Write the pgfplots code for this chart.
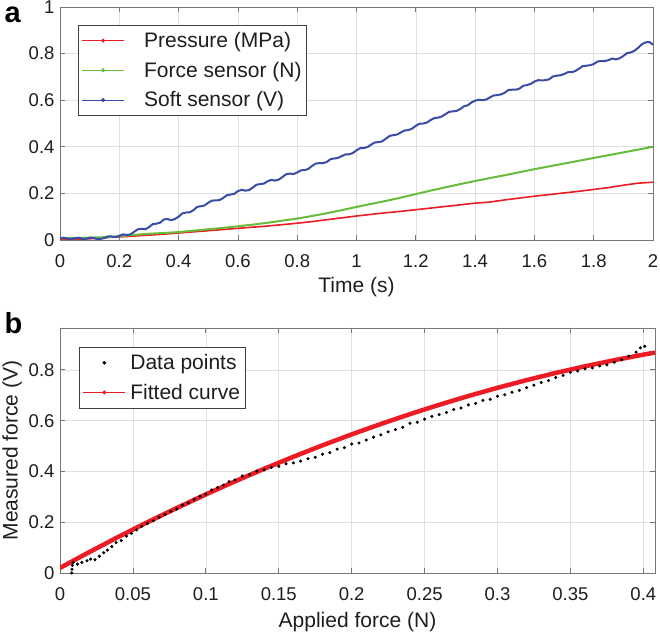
\documentclass[border=0pt]{standalone}
\usepackage{fontspec}
\setmainfont{Liberation Sans}
\usepackage{pgfplots}
\pgfplotsset{compat=1.18}
\definecolor{cred}{RGB}{237,28,36}
\definecolor{cgreen}{RGB}{102,189,58}
\definecolor{cblue}{RGB}{56,76,168}
\definecolor{gridc}{RGB}{224,224,224}
\definecolor{axc}{RGB}{120,120,120}
\definecolor{txt}{RGB}{30,30,30}
\pgfplotsset{mystyle/.style={
  scale only axis,
  axis line style={axc, line width=0.8pt},
  tick style={axc, line width=0.8pt},
  major tick length=5pt,
  tick align=inside,
  grid=major,
  grid style={gridc, line width=0.6pt},
  ticklabel style={font=\fontsize{18.5}{18.5}\selectfont, text=txt},
  xticklabel style={yshift=-11pt},
  yticklabel style={xshift=-2pt},
  label style={font=\fontsize{21}{21}\selectfont, text=txt},
  legend cell align=left,
  legend style={font=\fontsize{21}{21}\selectfont, draw=txt!85, line width=0.6pt,
    anchor=north west, text=txt, row sep=9pt, inner xsep=3pt, inner ysep=5pt},
}}
\pgfplotsset{lineleg/.style={legend image post style={line width=0.8pt},
  legend image code/.code={
  \draw (1pt,0pt) -- (43pt,0pt);
  \fill (22pt,0pt) circle (1.6pt);
  \path[draw=none,fill=none] (0pt,0pt) -- (#1,0pt);}}}
\begin{document}
\begin{tikzpicture}[x=1pt,y=1pt]
\useasboundingbox (0,0) rectangle (660,635);
\begin{axis}[mystyle,
  at={(60pt,395pt)}, anchor=south west,
  width=593pt, height=233pt,
  xmin=0, xmax=2, ymin=0, ymax=1,
  xtick={0,0.2,0.4,0.6,0.8,1,1.2,1.4,1.6,1.8,2},
  xticklabels={0,0.2,0.4,0.6,0.8,1,1.2,1.4,1.6,1.8,2},
  ytick={0,0.2,0.4,0.6,0.8,1},
  yticklabels={0,0.2,0.4,0.6,0.8,1},
  xlabel={Time (s)}, xlabel style={yshift=-3pt},
  legend style={at={(0.03,0.923)}},
]
\addplot[cred, line width=1.6pt, lineleg=61pt] coordinates {
(0,0.002) (0.05,0.003) (0.1,0.005) (0.15,0.010) (0.2,0.013) (0.25,0.017) (0.3,0.021) (0.35,0.025) (0.4,0.030) (0.45,0.035) (0.5,0.040) (0.55,0.045) (0.6,0.050) (0.65,0.055) (0.7,0.060) (0.75,0.066) (0.8,0.072) (0.85,0.079) (0.9,0.087) (0.95,0.095) (1.0,0.103) (1.05,0.110) (1.1,0.117) (1.15,0.123) (1.2,0.130) (1.25,0.137) (1.3,0.144) (1.35,0.151) (1.4,0.158) (1.45,0.163) (1.5,0.172) (1.55,0.180) (1.6,0.188) (1.65,0.195) (1.7,0.202) (1.75,0.209) (1.8,0.217) (1.85,0.225) (1.9,0.235) (1.95,0.244) (2.0,0.248)};
\addlegendentry{Pressure (MPa)}
\addplot[cgreen, line width=2pt, lineleg=61pt] coordinates {
(0,0.008) (0.05,0.008) (0.1,0.010) (0.15,0.012) (0.2,0.016) (0.25,0.022) (0.3,0.027) (0.35,0.030) (0.4,0.034) (0.45,0.040) (0.5,0.046) (0.55,0.052) (0.6,0.059) (0.65,0.066) (0.7,0.074) (0.75,0.083) (0.8,0.092) (0.85,0.103) (0.9,0.115) (0.95,0.128) (1.0,0.142) (1.05,0.155) (1.1,0.168) (1.15,0.182) (1.2,0.197) (1.25,0.212) (1.3,0.226) (1.35,0.240) (1.4,0.253) (1.45,0.266) (1.5,0.278) (1.55,0.291) (1.6,0.304) (1.65,0.316) (1.7,0.328) (1.75,0.340) (1.8,0.352) (1.85,0.364) (1.9,0.376) (1.95,0.388) (2.0,0.400)};
\addlegendentry{Force sensor (N)}
\addplot[cblue, line width=2pt, lineleg=61pt] coordinates {
(0.000,0.008) (0.0125,0.010) (0.025,0.006) (0.0375,0.004) (0.050,0.008) (0.0625,0.010) (0.075,0.005) (0.0875,0.004) (0.100,0.010) (0.1125,0.009) (0.125,0.004) (0.1375,0.005) (0.150,0.008) (0.1625,0.016) (0.175,0.015) (0.1875,0.012) (0.200,0.018) (0.2125,0.024) (0.225,0.022) (0.2375,0.024) (0.250,0.035) (0.2625,0.046) (0.275,0.048) (0.2875,0.046) (0.300,0.055) (0.3125,0.068) (0.325,0.070) (0.3375,0.074) (0.350,0.088) (0.3625,0.090) (0.375,0.085) (0.3875,0.090) (0.400,0.100) (0.4125,0.114) (0.425,0.118) (0.4375,0.119) (0.450,0.128) (0.4625,0.142) (0.475,0.145) (0.4875,0.148) (0.500,0.160) (0.5125,0.169) (0.525,0.170) (0.5375,0.171) (0.550,0.180) (0.5625,0.192) (0.575,0.195) (0.5875,0.198) (0.600,0.210) (0.6125,0.215) (0.625,0.212) (0.6375,0.214) (0.650,0.225) (0.6625,0.237) (0.675,0.240) (0.6875,0.242) (0.700,0.252) (0.7125,0.258) (0.725,0.255) (0.7375,0.259) (0.750,0.270) (0.7625,0.282) (0.775,0.285) (0.7875,0.283) (0.800,0.290) (0.8125,0.299) (0.825,0.300) (0.8375,0.305) (0.850,0.318) (0.8625,0.328) (0.875,0.330) (0.8875,0.330) (0.900,0.335) (0.9125,0.347) (0.925,0.350) (0.9375,0.352) (0.950,0.360) (0.9625,0.367) (0.975,0.368) (0.9875,0.373)
(1.000,0.385) (1.0125,0.394) (1.025,0.395) (1.0375,0.399) (1.050,0.410) (1.0625,0.419) (1.075,0.420) (1.0875,0.424) (1.100,0.436) (1.1125,0.447) (1.125,0.450) (1.1375,0.453) (1.150,0.462) (1.1625,0.470) (1.175,0.472) (1.1875,0.478) (1.200,0.490) (1.2125,0.499) (1.225,0.500) (1.2375,0.504) (1.250,0.515) (1.2625,0.523) (1.275,0.525) (1.2875,0.530) (1.300,0.540) (1.3125,0.550) (1.325,0.552) (1.3375,0.554) (1.350,0.562) (1.3625,0.574) (1.375,0.578) (1.3875,0.590) (1.400,0.598) (1.4125,0.602) (1.425,0.600) (1.4375,0.603) (1.450,0.612) (1.4625,0.620) (1.475,0.622) (1.4875,0.625) (1.500,0.632) (1.5125,0.644) (1.525,0.645) (1.5375,0.645) (1.550,0.650) (1.5625,0.662) (1.575,0.665) (1.5875,0.670) (1.600,0.680) (1.6125,0.686) (1.625,0.685) (1.6375,0.686) (1.650,0.690) (1.6625,0.702) (1.675,0.705) (1.6875,0.707) (1.700,0.712) (1.7125,0.720) (1.725,0.720) (1.7375,0.725) (1.750,0.735) (1.7625,0.746) (1.775,0.748) (1.7875,0.750) (1.800,0.755) (1.8125,0.766) (1.825,0.768) (1.8375,0.768) (1.850,0.772) (1.8625,0.779) (1.875,0.775) (1.8875,0.780) (1.900,0.790) (1.9125,0.802) (1.925,0.805) (1.9375,0.812) (1.950,0.825) (1.9625,0.840) (1.975,0.848) (1.9875,0.850) (2.000,0.838)};
\addlegendentry{Soft sensor (V)}
\end{axis}
\begin{axis}[mystyle,
  at={(60pt,62pt)}, anchor=south west,
  width=595pt, height=245pt,
  xmin=0, xmax=0.408, ymin=0, ymax=0.965,
  xtick={0,0.05,0.1,0.15,0.2,0.25,0.3,0.35,0.4},
  xticklabels={0,0.05,0.1,0.15,0.2,0.25,0.3,0.35,0.4},
  ytick={0,0.2,0.4,0.6,0.8},
  yticklabels={0,0.2,0.4,0.6,0.8},
  xlabel={Applied force (N)}, xlabel style={yshift=-5pt},
  ylabel={Measured force (V)},
  legend style={at={(0.032,0.922)}},
]
\addplot[only marks, mark=*, mark size=1.35pt, black, legend image code/.code={\fill (22pt,0pt) circle (1.5pt); \path[draw=none,fill=none] (0pt,0pt) -- (46pt,0pt);}] coordinates {
(0.0080,0.000) (0.0082,0.015) (0.0085,0.030) (0.0090,0.042) (0.0120,0.035) (0.0150,0.042) (0.0185,0.048) (0.0210,0.055) (0.0240,0.052) (0.0270,0.066) (0.0300,0.080) (0.0325,0.090) (0.0355,0.104) (0.0385,0.120) (0.0420,0.128) (0.0455,0.145) (0.0490,0.156) (0.0525,0.170) (0.0560,0.184) (0.0600,0.195) (0.0640,0.206) (0.0680,0.220) (0.0720,0.230) (0.0760,0.243) (0.0800,0.252) (0.0840,0.268) (0.0880,0.276) (0.0920,0.290) (0.0960,0.302) (0.1000,0.311) (0.1040,0.327) (0.1080,0.337) (0.1120,0.346) (0.1160,0.360) (0.1200,0.366) (0.1250,0.382) (0.1300,0.388) (0.1350,0.401) (0.1400,0.406) (0.1450,0.416) (0.1500,0.420) (0.1550,0.430) (0.1600,0.434) (0.1650,0.441) (0.1700,0.450) (0.1750,0.456) (0.1800,0.468) (0.1850,0.474) (0.1900,0.488) (0.1950,0.494) (0.2000,0.508) (0.2050,0.512) (0.2100,0.524) (0.2150,0.535) (0.2200,0.544) (0.2250,0.556) (0.2300,0.565) (0.2350,0.574) (0.2400,0.590) (0.2450,0.594) (0.2500,0.606) (0.2550,0.617) (0.2600,0.624) (0.2650,0.632) (0.2700,0.644) (0.2750,0.650) (0.2800,0.662) (0.2850,0.668) (0.2900,0.680) (0.2950,0.684) (0.3000,0.696) (0.3050,0.702) (0.3100,0.712) (0.3150,0.719) (0.3200,0.730) (0.3250,0.740) (0.3300,0.750) (0.3350,0.758) (0.3400,0.770) (0.3450,0.778) (0.3500,0.790) (0.3550,0.796) (0.3600,0.804) (0.3650,0.808) (0.3700,0.816) (0.3750,0.820) (0.3800,0.830) (0.3850,0.840) (0.3900,0.854) (0.3950,0.870) (0.3980,0.887) (0.4010,0.893)};
\addlegendentry{Data points}
\addplot[cred, line width=4.5pt, legend image post style={line width=0.8pt}, legend image code/.code={\draw (1pt,0pt) -- (43pt,0pt); \fill (22pt,0pt) circle (1.6pt);}] coordinates {
(0,0.020) (0.02,0.0821) (0.04,0.1422) (0.06,0.2001) (0.08,0.2558) (0.10,0.3095) (0.12,0.3610) (0.14,0.4105) (0.16,0.4578) (0.18,0.5029) (0.20,0.5460) (0.22,0.5869) (0.24,0.6258) (0.26,0.6625) (0.28,0.6970) (0.30,0.7295) (0.32,0.7598) (0.34,0.7881) (0.36,0.8142) (0.38,0.8381) (0.40,0.8600) (0.408,0.8682)};
\addlegendentry{Fitted curve}
\end{axis}
\node[anchor=base west, font=\fontsize{29}{29}\selectfont\bfseries] at (1,612) {a};
\node[anchor=base west, font=\fontsize{29}{29}\selectfont\bfseries] at (1,302) {b};
\end{tikzpicture}
\end{document}
